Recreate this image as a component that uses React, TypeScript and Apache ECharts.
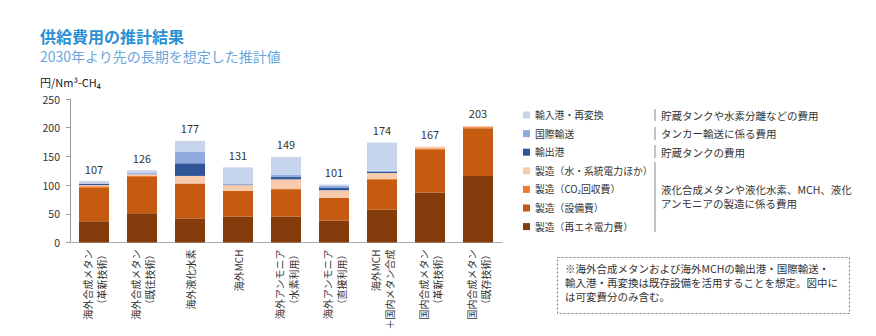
import React, { useEffect, useRef } from "react";
import * as echarts from "echarts";

const categories = [
  "海外合成メタン\n（革新技術）",
  "海外合成メタン\n（既往技術）",
  "海外液化水素",
  "海外MCH",
  "海外アンモニア\n（水素利用）",
  "海外アンモニア\n（直接利用）",
  "海外MCH\n＋国内メタン合成",
  "国内合成メタン\n（革新技術）",
  "国内合成メタン\n（既存技術）",
];

const renewablePower = [37, 51, 42, 45, 45, 38, 57, 87, 116];
const equipment = [58, 63, 61, 45, 48, 40, 52, 74, 83];
const co2Capture = [3, 2, 0, 0, 0, 0, 2, 3, 2];
const waterGrid = [2, 3, 13, 10, 17, 13, 10, 3, 2];
const exportPort = [2, 1, 22, 1, 4, 4, 2, 0, 0];
const shipping = [1, 1, 20, 1, 4, 4, 2, 0, 0];
const importPort = [4, 5, 19, 29, 31, 2, 49, 0, 0];
const totals = [107, 126, 177, 131, 149, 101, 174, 167, 203];

const yTicks = { min: 0, max: 250, interval: 50 };

const seriesDefs = [
  { name: "製造（再エネ電力費）", data: renewablePower, color: "#843c0c" },
  { name: "製造（設備費）", data: equipment, color: "#c55a11" },
  { name: "製造（CO₂回収費）", data: co2Capture, color: "#ed7d31" },
  { name: "製造（水・系統電力ほか）", data: waterGrid, color: "#f8cbad" },
  { name: "輸出港", data: exportPort, color: "#2f5597" },
  { name: "国際輸送", data: shipping, color: "#8faadc" },
  { name: "輸入港・再変換", data: importPort, color: "#c6d4ee" },
];

const descriptions = [
  "貯蔵タンクや水素分離などの費用",
  "タンカー輸送に係る費用",
  "貯蔵タンクの費用",
  "液化合成メタンや液化水素、MCH、液化\nアンモニアの製造に係る費用",
];

const noteText =
  "※海外合成メタンおよび海外MCHの輸出港・国際輸送・\n輸入港・再変換は既存設備を活用することを想定。図中に\nは可変費分のみ含む。";

const FONT = "'Noto Sans CJK JP', 'Noto Sans', sans-serif";

export default function App() {
  const ref = useRef<HTMLDivElement>(null);
  useEffect(() => {
    if (!ref.current) return;
    const chart = echarts.init(ref.current, undefined, { renderer: "svg" });
    const series: any[] = seriesDefs.map((s) => ({
      name: s.name,
      type: "bar",
      stack: "total",
      barWidth: 30,
      data: s.data,
      itemStyle: { color: s.color },
      emphasis: { disabled: true },
    }));
    series.push({
      name: "合計",
      type: "bar",
      stack: "total",
      barWidth: 30,
      data: totals.map(() => 0),
      itemStyle: { color: "transparent" },
      label: {
        show: true,
        position: "top",
        distance: 7,
        formatter: (p: any) => String(totals[p.dataIndex]),
        fontSize: 11,
        color: "#333",
        fontFamily: FONT,
      },
      silent: true,
    });

    const legendOrder = seriesDefs.map((s) => s.name).reverse();
    const sepX = 655;
    const graphic: any[] = [
      { type: "line", shape: { x1: sepX, y1: 109, x2: sepX, y2: 121 }, style: { stroke: "#888", lineWidth: 1 } },
      { type: "line", shape: { x1: sepX, y1: 127, x2: sepX, y2: 140 }, style: { stroke: "#888", lineWidth: 1 } },
      { type: "line", shape: { x1: sepX, y1: 145, x2: sepX, y2: 158 }, style: { stroke: "#888", lineWidth: 1 } },
      { type: "line", shape: { x1: sepX, y1: 162, x2: sepX, y2: 232 }, style: { stroke: "#888", lineWidth: 1 } },
      { type: "text", x: 661, y: 115, style: { text: descriptions[0], fontSize: 10.5, fill: "#333", fontFamily: FONT, verticalAlign: "middle" } },
      { type: "text", x: 661, y: 133.5, style: { text: descriptions[1], fontSize: 10.5, fill: "#333", fontFamily: FONT, verticalAlign: "middle" } },
      { type: "text", x: 661, y: 152, style: { text: descriptions[2], fontSize: 10.5, fill: "#333", fontFamily: FONT, verticalAlign: "middle" } },
      { type: "text", x: 661, y: 196, style: { text: descriptions[3], fontSize: 10.5, lineHeight: 14, fill: "#333", fontFamily: FONT, verticalAlign: "middle" } },
      {
        type: "rect",
        shape: { x: 557.5, y: 257.5, width: 292, height: 56 },
        style: { fill: "none", stroke: "#777", lineWidth: 1, lineDash: [2, 2] },
      },
      { type: "text", x: 565, y: 282, style: { text: noteText, fontSize: 10.5, lineHeight: 14, fill: "#333", fontFamily: FONT, verticalAlign: "middle" } },
    ];

    chart.setOption({
      animation: false,
      textStyle: { fontFamily: FONT },
      title: [
        { text: "供給費用の推計結果", left: 40, top: 28, padding: 0, textStyle: { fontSize: 16, fontWeight: "bold", color: "#2b8fd5", fontFamily: FONT } },
        { text: "2030年より先の長期を想定した推計値", left: 40, top: 49, padding: 0, textStyle: { fontSize: 14, fontWeight: "normal", color: "#6aa6dc", fontFamily: FONT } },
        { text: "円/Nm³-CH₄", left: 40, top: 76, padding: 0, textStyle: { fontSize: 11, fontWeight: "normal", color: "#222", fontFamily: FONT } },
      ],
      legend: {
        data: legendOrder,
        orient: "vertical",
        left: 523,
        top: 109,
        padding: 0,
        itemWidth: 7,
        itemHeight: 7,
        itemGap: 6.6,
        icon: "rect",
        selectedMode: false,
        textStyle: { fontSize: 9.8, lineHeight: 12, color: "#333", fontFamily: FONT },
      },
      grid: { left: 70, top: 99, width: 432, height: 143.5 },
      xAxis: {
        type: "category",
        data: categories,
        axisLine: { show: true, lineStyle: { color: "#aaa" } },
        axisTick: { show: false },
        axisLabel: {
          rotate: 90,
          interval: 0,
          fontSize: 10,
          lineHeight: 14,
          margin: 7,
          color: "#333",
          fontFamily: FONT,
        },
      },
      yAxis: {
        type: "value",
        min: yTicks.min,
        max: yTicks.max,
        interval: yTicks.interval,
        axisLine: { show: true, lineStyle: { color: "#999" } },
        axisTick: { show: true, length: 4, lineStyle: { color: "#999" } },
        splitLine: { show: false },
        axisLabel: { fontSize: 10.5, color: "#333", margin: 10, fontFamily: FONT },
      },
      graphic,
      series,
    });
    return () => chart.dispose();
  }, []);
  return (
    <div
      ref={ref}
      style={{ position: "fixed", left: 0, top: 0, width: 876, height: 336, background: "#fff" }}
    />
  );
}
